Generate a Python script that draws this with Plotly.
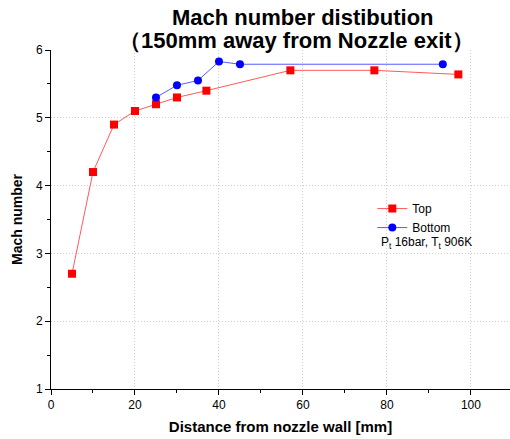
import plotly.graph_objects as go

top_x = [5, 10, 15, 20, 25, 30, 37, 57, 77, 97]
top_y = [2.7, 4.2, 4.9, 5.1, 5.2, 5.3, 5.4, 5.7, 5.7, 5.64]
bot_x = [25, 30, 35, 40, 45, 93.3]
bot_y = [5.3, 5.48, 5.55, 5.83, 5.79, 5.79]

fig = go.Figure()
fig.add_trace(go.Scatter(x=top_x, y=top_y, mode="lines+markers", name="Top",
                         line=dict(color="#ff5a5a", width=1),
                         marker=dict(symbol="square", size=8, color="#ff0000")))
fig.add_trace(go.Scatter(x=bot_x, y=bot_y, mode="lines+markers", name="Bottom",
                         line=dict(color="#5a5aff", width=1),
                         marker=dict(symbol="circle", size=8, color="#0000ff")))

fnt = "Liberation Sans, Arial, sans-serif"
grid = dict(showgrid=True, gridcolor="#cfcfcf", griddash="1px,2px", gridwidth=1, zeroline=False)
fig.update_layout(
    width=510, height=439,
    margin=dict(l=51, r=0, t=50, b=50),
    plot_bgcolor="white", paper_bgcolor="white",
    font=dict(family=fnt, size=12, color="black"),
    showlegend=True,
    legend=dict(x=0.7, y=0.575, xanchor="left", yanchor="top", bgcolor="rgba(0,0,0,0)",
                font=dict(size=12), itemwidth=30, tracegroupgap=0),
    xaxis=dict(range=[0, 109.3], tickvals=[0, 20, 40, 60, 80, 100],
               showline=True, linecolor="black", linewidth=1,
               ticks="outside", ticklen=5, tickcolor="black",
               minor=dict(tickvals=[10, 30, 50, 70, 90], ticks="outside", ticklen=3, tickcolor="black", showgrid=False),
               title=dict(text="<b>Distance from nozzle wall [mm]</b>", font=dict(size=15), standoff=10),
               **grid),
    yaxis=dict(range=[1, 6], tickvals=[1, 2, 3, 4, 5, 6],
               showline=True, linecolor="black", linewidth=1,
               ticks="outside", ticklen=5, tickcolor="black",
               minor=dict(tickvals=[1.5, 2.5, 3.5, 4.5, 5.5], ticks="outside", ticklen=3, tickcolor="black", showgrid=False),
               title=dict(text="<b>Mach number</b>", font=dict(size=14), standoff=10),
               **grid),
)
fig.add_annotation(text="<b>Mach number distibution</b>", xref="paper", yref="paper",
                   x=0.548, y=1 + (50 - 17) / 339, xanchor="center", yanchor="middle",
                   showarrow=False, font=dict(size=22))
fig.add_annotation(text="<b>（150mm away from Nozzle exit）</b>", xref="paper", yref="paper",
                   x=0.535, y=1 + (50 - 40) / 339, xanchor="center", yanchor="middle",
                   showarrow=False, font=dict(size=22))
fig.add_annotation(text="P<sub>t</sub> 16bar, T<sub>t</sub> 906K", xref="paper", yref="paper",
                   x=0.715, y=0.43, xanchor="left", yanchor="middle", showarrow=False,
                   font=dict(size=12))
fig.write_html("out.html")
